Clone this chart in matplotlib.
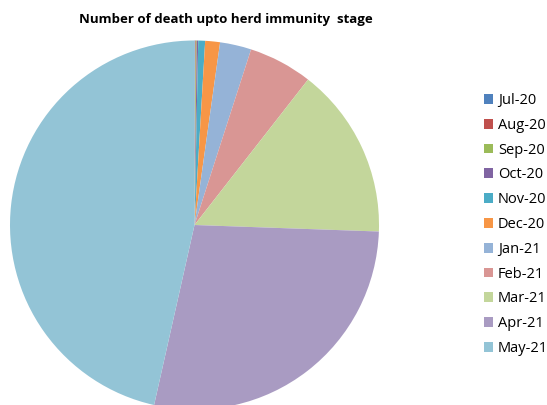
import matplotlib as mpl
import matplotlib.pyplot as plt
from matplotlib.patches import Patch

mpl.rcParams["font.family"] = ["Open Sans", "DejaVu Sans"]

months = ["Jul-20", "Aug-20", "Sep-20", "Oct-20", "Nov-20", "Dec-20",
          "Jan-21", "Feb-21", "Mar-21", "Apr-21", "May-21"]
deaths = [46, 55, 85, 125, 580, 1250, 2650, 5400, 14500, 27000, 44900]
colors = ["#4F81BD", "#C0504D", "#9BBB59", "#8064A2", "#4BACC6", "#F79646",
          "#95B3D7", "#D99694", "#C3D69B", "#A99BC2", "#93C4D6"]

W, H = 547, 405
fig = plt.figure(figsize=(W / 100, H / 100), dpi=100)

cx, cy, r = 194.5, 225.0, 184.5
ax = fig.add_axes([(cx - r) / W, (H - cy - r) / H, 2 * r / W, 2 * r / H])
ax.pie(deaths, colors=colors, startangle=90, counterclock=False,
       wedgeprops={"linewidth": 0})
ax.set_xlim(-1, 1)
ax.set_ylim(-1, 1)
ax.set_aspect("auto")
ax.axis("off")

fig.text(226 / W, 1 - 19 / H, "Number of death upto herd immunity  stage",
         ha="center", va="center", fontsize=9.5, fontweight="bold")

handles = [Patch(facecolor=c, edgecolor="none") for c in colors]
fig.legend(handles, months, loc="center left", bbox_to_anchor=(484 / W, 1 - 224.5 / H),
           frameon=False, fontsize=10.5, handlelength=0.65, handleheight=0.65,
           handletextpad=0.3, labelspacing=0.67, borderaxespad=0, borderpad=0)

fig.savefig("out.png", dpi=100, facecolor="white")
